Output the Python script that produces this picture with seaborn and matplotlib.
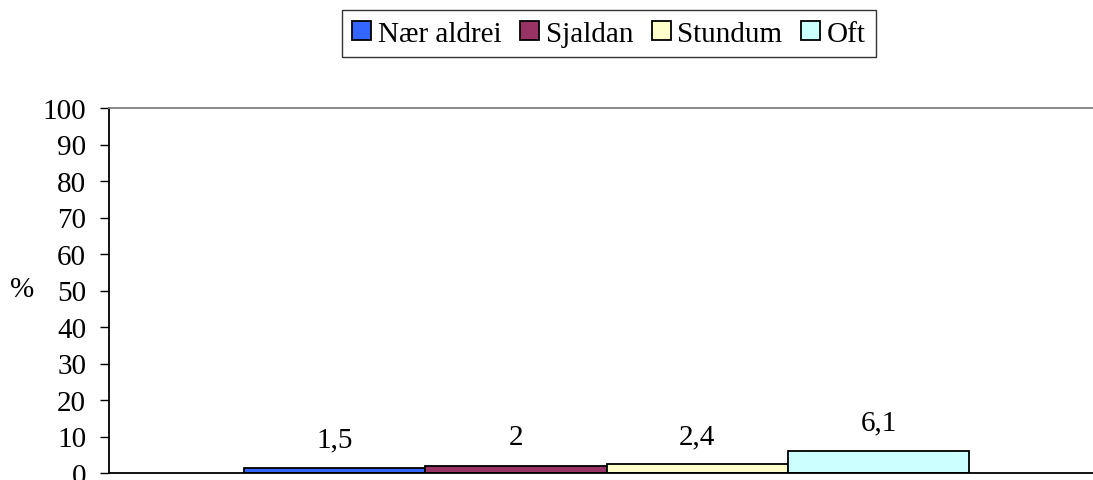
import matplotlib
matplotlib.use("Agg")
import matplotlib.pyplot as plt
import seaborn as sns
import pandas as pd
from matplotlib.patches import Patch

categories = ["Nær aldrei", "Sjaldan", "Stundum", "Oft"]
values = [1.5, 2, 2.4, 6.1]
value_labels = ["1,5", "2", "2,4", "6,1"]
colors = ["#3366FF", "#993366", "#FFFFCC", "#CCFFFF"]
yticks = list(range(0, 101, 10))

sns.set_style("white")
plt.rcParams['font.family'] = ['Liberation Serif', 'DejaVu Serif']
plt.rcParams['font.size'] = 21
plt.rcParams['text.color'] = 'black'
plt.rcParams['axes.labelcolor'] = 'black'
plt.rcParams['xtick.color'] = 'black'
plt.rcParams['ytick.color'] = 'black'

df = pd.DataFrame({"group": [""] * len(categories), "svar": categories, "pct": values})

W, H = 1093, 481
fig = plt.figure(figsize=(W / 100, H / 100), dpi=100)
ax_left, ax_right, ax_top, ax_bottom = 109, 1104, 109, 474
ax = fig.add_axes([ax_left / W, (H - ax_bottom) / H, (ax_right - ax_left) / W, (ax_bottom - ax_top) / H])

sns.barplot(data=df, x="group", y="pct", hue="svar", hue_order=categories,
            palette=colors, width=0.729, gap=0, edgecolor="black", linewidth=1.3,
            saturation=1, ax=ax, legend=False, errorbar=None)

for cont, lab in zip(ax.containers, value_labels):
    ax.bar_label(cont, labels=[lab], padding=11, fontsize=21, color="black")

ax.set_xlim(-0.5, 0.5)
ax.set_ylim(0, 100)
ax.set_yticks(yticks)
ax.set_yticklabels([str(t) for t in yticks])
ax.set_xticks([])
ax.set_xlabel("")
ax.set_ylabel("%", rotation=0, ha="center", va="center")
ax.yaxis.set_label_coords((22 - ax_left) / (ax_right - ax_left), (ax_bottom - 290) / (ax_bottom - ax_top))
ax.tick_params(axis="y", direction="out", length=6.5, width=1, color="black",
               labelcolor="black", pad=10, left=True)
for side in ["left", "bottom"]:
    ax.spines[side].set_color("black")
    ax.spines[side].set_linewidth(1.3)
for side in ["top", "right"]:
    ax.spines[side].set_visible(True)
    ax.spines[side].set_color("#808080")
    ax.spines[side].set_linewidth(1.3)

handles = [Patch(facecolor=c, edgecolor="black", linewidth=1.3) for c in colors]
leg = fig.legend(handles, categories, loc="center", bbox_to_anchor=(609 / W, 1 - 34.5 / H),
                 ncol=4, frameon=True, fancybox=False, handlelength=0.65, handleheight=0.65,
                 handletextpad=0.22, columnspacing=0.65, borderpad=0.35, fontsize=21)
leg.get_frame().set_edgecolor("black")
leg.get_frame().set_linewidth(1.0)
for t in leg.get_texts():
    t.set_color("black")

fig.savefig("out.png", dpi=100)
